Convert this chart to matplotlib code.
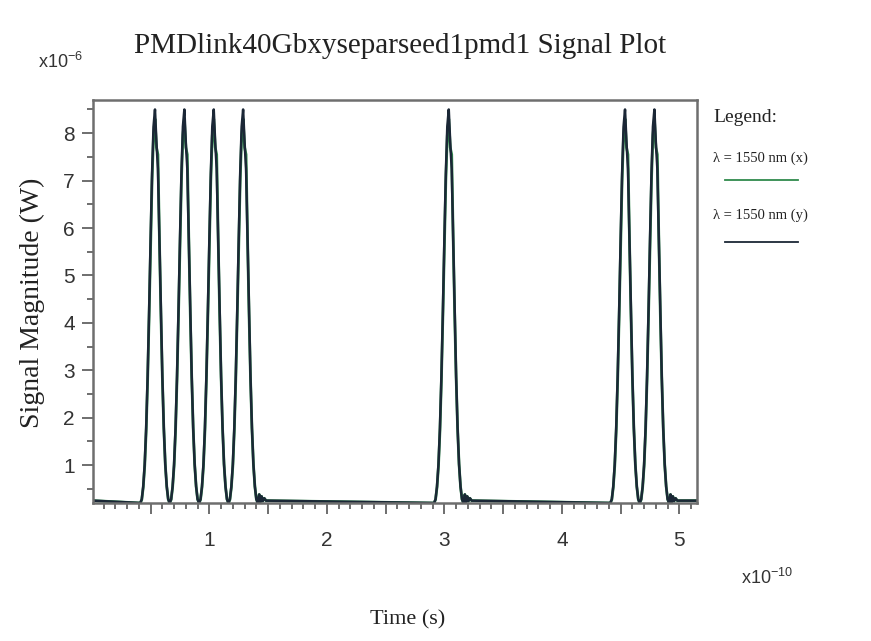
import numpy as np
import matplotlib
matplotlib.use("Agg")
import matplotlib.pyplot as plt
from matplotlib.ticker import MultipleLocator, FuncFormatter

# pulse centres (units of 1e-10 s)
pulse_centers = [0.5375, 0.7875, 1.0375, 1.2875, 3.0375, 4.5375, 4.7875]
bit_slot = 0.25

# one pulse (offset in 1e-10 s, power in 1e-6 W)
prof_off = [-0.125, -0.1125, -0.1, -0.0875, -0.075, -0.0625, -0.05, -0.0375,
            -0.025, -0.0125, 0.0, 0.0125, 0.025, 0.0375, 0.05, 0.0625, 0.075,
            0.0875, 0.1, 0.1125, 0.125]
prof_y = [0.20, 0.28, 0.55, 1.02, 1.79, 2.88, 4.25, 5.76, 7.15, 8.14, 8.50,
          7.80, 7.25, 5.80, 4.25, 2.88, 1.79, 1.02, 0.55, 0.28, 0.20]
prof_x = [0.20, 0.27, 0.53, 0.98, 1.72, 2.80, 4.15, 5.62, 7.00, 7.95, 8.30,
          7.70, 7.55, 5.80, 4.22, 2.86, 1.78, 1.02, 0.55, 0.28, 0.20]

# ringing after an isolated trailing edge
tail_off = [0.012, 0.022, 0.032, 0.042, 0.055, 0.07]
tail_y = [0.38, 0.22, 0.34, 0.24, 0.30, 0.25]

baseline = 0.25
t_range = (0.01, 5.15)


def build_trace(profile):
    t = [t_range[0]]
    v = [baseline]
    for i, c in enumerate(pulse_centers):
        for o, p in zip(prof_off, profile):
            t.append(c + o)
            v.append(p)
        nxt = pulse_centers[i + 1] if i + 1 < len(pulse_centers) else None
        if nxt is None or nxt - c > bit_slot + 1e-6:
            for o, p in zip(tail_off, tail_y):
                t.append(c + 0.125 + o)
                v.append(p)
    t.append(t_range[1])
    v.append(baseline)
    return np.array(t), np.array(v)


tx, vx = build_trace(prof_x)
ty, vy = build_trace(prof_y)

W, H = 871, 641
fig = plt.figure(figsize=(W / 100, H / 100), dpi=100)
ax = fig.add_axes([93 / W, 1 - 503 / H, (697 - 93) / W, (503 - 100) / H])

ax.plot(tx, vx, color='#2f8a4c', lw=2.0)
ax.plot(ty, vy, color='#1b2736', lw=1.8)

ax.set_xlim(*t_range)
ax.set_ylim(0.2, 8.7)

ax.xaxis.set_major_locator(MultipleLocator(0.5))
ax.xaxis.set_minor_locator(MultipleLocator(0.1))
ax.xaxis.set_major_formatter(FuncFormatter(
    lambda v, p: "%d" % round(v) if abs(v - round(v)) < 1e-6 else ""))
ax.yaxis.set_major_locator(MultipleLocator(1))
ax.yaxis.set_minor_locator(MultipleLocator(0.5))
ax.yaxis.set_major_formatter(FuncFormatter(lambda v, p: "%d" % round(v)))

for s in ax.spines.values():
    s.set_color('#6e6e6e')
    s.set_linewidth(1.8)

ax.tick_params(which='major', direction='out', length=8, width=1.2,
               color='#555555', labelcolor='#333333', labelsize=15)
ax.tick_params(axis='x', which='major', pad=12)
ax.tick_params(axis='y', which='major', pad=5)
ax.tick_params(which='minor', direction='out', length=4.5, width=1.2,
               color='#555555')
for lab in ax.get_xticklabels() + ax.get_yticklabels():
    lab.set_family('Liberation Sans')

serif = 'Liberation Serif'
fig.text(400 / W, 1 - 46 / H, 'PMDlink40Gbxyseparseed1pmd1 Signal Plot',
         family=serif, size=21, ha='center', va='center', color='#222222')
fig.text(32 / W, 1 - 303 / H, 'Signal Magnitude (W)', family=serif, size=20,
         rotation=90, ha='center', va='center', color='#222222')
fig.text(408 / W, 1 - 620 / H, 'Time (s)', family=serif, size=16,
         ha='center', va='center', color='#222222')

fig.text(38 / W, 1 - 62 / H, r'x10$^{\mathregular{-6}}$', family='Liberation Sans',
         size=13, ha='left', va='center', color='#333333')
fig.text(741 / W, 1 - 578 / H, r'x10$^{\mathregular{-10}}$', family='Liberation Sans',
         size=13, ha='left', va='center', color='#333333')

# legend block on the right
fig.text(713 / W, 1 - 118 / H, 'Legend:', family=serif, size=14,
         ha='left', va='center', color='#222222')
fig.text(713 / W, 1 - 158 / H, 'λ = 1550 nm (x)', family=serif, size=10.5,
         ha='left', va='center', color='#222222')
fig.text(713 / W, 1 - 215 / H, 'λ = 1550 nm (y)', family=serif, size=10.5,
         ha='left', va='center', color='#222222')
fig.add_artist(plt.Line2D([725 / W, 798 / W], [1 - 180 / H, 1 - 180 / H],
                          color='#2f8a4c', lw=1.3))
fig.add_artist(plt.Line2D([725 / W, 798 / W], [1 - 242 / H, 1 - 242 / H],
                          color='#1b2736', lw=1.3))

fig.savefig('out.png', dpi=100, facecolor='white')
